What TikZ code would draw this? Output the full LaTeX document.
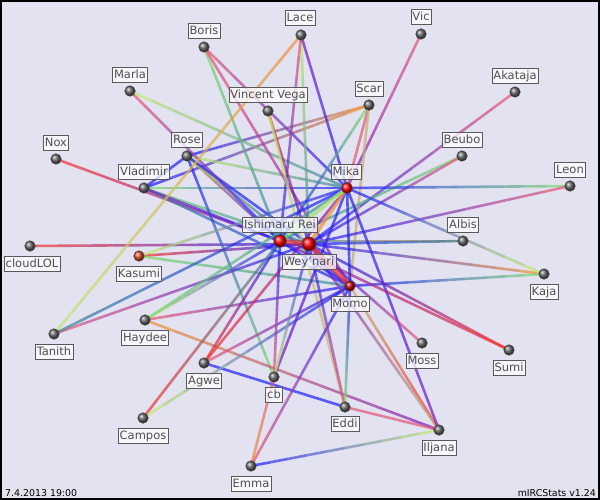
\documentclass[tikz,border=0pt]{standalone}
\usepackage{fontspec}
\setmainfont{DejaVu Sans}
\usetikzlibrary{calc}
\definecolor{bg}{RGB}{226,226,240}
\definecolor{B}{RGB}{30,30,250}
\definecolor{P}{RGB}{125,25,190}
\definecolor{K}{RGB}{228,85,120}
\definecolor{R}{RGB}{240,50,50}
\definecolor{G}{RGB}{120,215,110}
\definecolor{Y}{RGB}{190,232,110}
\definecolor{O}{RGB}{235,145,55}
\definecolor{T}{RGB}{60,135,160}
\definecolor{N}{RGB}{200,170,115}
\definecolor{lbltext}{RGB}{80,80,80}
\tikzset{
  dot/.style={circle, minimum size=10.5pt, inner sep=0pt, shading=ball, ball color=gray!80!black, draw=black!75, line width=0.5pt},
  hubdot/.style={dot, ball color=red},
  lbl/.style={draw=black!65, fill=white, fill opacity=0.75, text opacity=1, text=lbltext,
    font=\fontsize{11.5}{13}\selectfont, inner sep=1.6pt, text height=9pt, text depth=2.6pt},
  foot/.style={font=\fontsize{9.4}{11}\selectfont, text=black, inner sep=0pt}
}
\newcommand{\gedge}[5]{%
  \foreach \i in {0,...,9}{%
    \pgfmathtruncatemacro{\p}{100-\i*11}%
    \draw[line width=#5, draw opacity=0.7, #3!\p!#4] ($(#1)!\i/10!(#2)$) -- ($(#1)!\i/10+0.1!(#2)$);
  }}
\newcommand{\gln}[4]{\gedge{#1}{#2}{#3}{#4}{2.6pt}}
\begin{document}
\begin{tikzpicture}[x=1pt,y=-1pt]
\useasboundingbox (0,0) rectangle (600,500);
\fill[bg] (0,0) rectangle (600,500);
\draw[black, line width=2pt] (1,1) rectangle (599,499);
% positions
\coordinate (boris) at (204,47);
\coordinate (lace) at (301,35);
\coordinate (vic) at (421,34);
\coordinate (marla) at (130,91);
\coordinate (akataja) at (515,92);
\coordinate (vv) at (268,111);
\coordinate (scar) at (369,105);
\coordinate (nox) at (56,159);
\coordinate (rose) at (187,156);
\coordinate (beubo) at (462,156);
\coordinate (mika) at (347,188);
\coordinate (leon) at (570,186);
\coordinate (vlad) at (144,188);
\coordinate (rei) at (280,241);
\coordinate (wey) at (309,244);
\coordinate (albis) at (463,241);
\coordinate (cloud) at (30,246);
\coordinate (kasumi) at (139,256);
\coordinate (kaja) at (544,274);
\coordinate (momo) at (350,286);
\coordinate (haydee) at (145,320);
\coordinate (tanith) at (54,334);
\coordinate (moss) at (422,343);
\coordinate (sumi) at (509,350);
\coordinate (agwe) at (204,363);
\coordinate (cb) at (274,377);
\coordinate (eddi) at (345,407);
\coordinate (campos) at (143,418);
\coordinate (iljana) at (439,430);
\coordinate (emma) at (251,466);
% leaf edges
\gln{nox}{rei}{R}{P}
\gln{cloud}{wey}{R}{B}
\gln{vlad}{rose}{B}{B}
\gln{vlad}{mika}{G}{B}
\gln{vlad}{wey}{G}{T}
\gln{vlad}{momo}{T}{B}
\gln{vlad}{rei}{P}{B}
\gln{vlad}{scar}{B}{O}
\gln{rose}{scar}{B}{O}
\gln{rose}{mika}{Y}{T}
\gln{rose}{cb}{B}{G}
\gln{rose}{rei}{O}{B}
\gln{rose}{momo}{G}{B}
\gln{rose}{wey}{B}{B}
\gln{marla}{rei}{K}{B}
\gln{marla}{mika}{Y}{T}
\gln{boris}{mika}{K}{B}
\gln{boris}{rei}{G}{T}
\gln{boris}{momo}{K}{P}
\gln{lace}{tanith}{O}{Y}
\gln{lace}{wey}{Y}{T}
\gln{lace}{rei}{K}{B}
\gln{lace}{mika}{P}{B}
\gln{vic}{mika}{K}{P}
\gln{akataja}{wey}{K}{B}
\gln{scar}{rei}{G}{B}
\gln{scar}{mika}{K}{K}
\gln{scar}{momo}{N}{N}
\gln{vv}{wey}{R}{B}
\gln{vv}{eddi}{Y}{N}
\gln{beubo}{rei}{G}{T}
\gln{beubo}{wey}{K}{B}
\gln{leon}{mika}{G}{B}
\gln{leon}{wey}{K}{B}
\gln{albis}{rei}{O}{T}
\gln{albis}{wey}{T}{B}
\gln{kaja}{wey}{O}{B}
\gln{kaja}{momo}{G}{B}
\gln{kaja}{mika}{Y}{B}
\gln{kasumi}{wey}{R}{B}
\gln{kasumi}{mika}{Y}{B}
\gln{kasumi}{momo}{G}{T}
\gln{tanith}{wey}{K}{B}
\gln{tanith}{mika}{T}{B}
\gln{haydee}{rei}{Y}{B}
\gln{haydee}{mika}{G}{T}
\gln{haydee}{momo}{K}{B}
\gln{haydee}{iljana}{O}{P}
\gln{agwe}{eddi}{B}{B}
\gln{agwe}{rei}{R}{B}
\gln{agwe}{momo}{K}{B}
\gln{agwe}{mika}{R}{P}
\gln{campos}{rei}{R}{T}
\gln{campos}{momo}{Y}{B}
\gln{cb}{rei}{K}{B}
\gln{cb}{mika}{P}{B}
\gln{cb}{wey}{Y}{B}
\gln{emma}{cb}{O}{K}
\gln{emma}{iljana}{B}{Y}
\gln{emma}{momo}{K}{B}
\gln{eddi}{wey}{K}{B}
\gln{eddi}{momo}{G}{B}
\gln{eddi}{iljana}{K}{K}
\gln{iljana}{momo}{R}{N}
\gln{iljana}{wey}{N}{P}
\gln{iljana}{mika}{P}{B}
\gln{moss}{wey}{K}{B}
\gln{sumi}{wey}{R}{B}
\gln{sumi}{rei}{R}{P}
% hub edges
\gln{rei}{momo}{B}{B}
\gln{mika}{momo}{B}{B}
\gedge{wey}{mika}{O}{O}{3.5pt}
\gedge{rei}{mika}{G}{Y}{4pt}
\gedge{rei}{wey}{R}{R}{5pt}
\gedge{wey}{momo}{R}{R}{5pt}
% dots
\foreach \n in {boris,lace,vic,marla,akataja,vv,scar,nox,rose,beubo,leon,vlad,albis,cloud,kaja,haydee,tanith,moss,sumi,agwe,cb,eddi,campos,iljana,emma}
  \node[dot] (\n-d) at (\n) {};
\node[dot, ball color=red!45!brown] (kasumi-d) at (kasumi) {};
\node[hubdot, minimum size=11pt] (mika-d) at (mika) {};
\node[hubdot, minimum size=10.5pt, ball color=red!75!black] (momo-d) at (momo) {};
\node[hubdot, minimum size=12.5pt] (rei-d) at (rei) {};
\node[hubdot, minimum size=14pt] (wey-d) at (wey) {};
% labels
\node[lbl] (boris-l) at (204,31) {Boris};
\node[lbl] (lace-l) at (300,18) {Lace};
\node[lbl] (vic-l) at (421,17) {Vic};
\node[lbl] (marla-l) at (130,75) {Marla};
\node[lbl] (akataja-l) at (515,76) {Akataja};
\node[lbl] (vv-l) at (268,95) {Vincent Vega};
\node[lbl] (scar-l) at (369,89) {Scar};
\node[lbl] (nox-l) at (56,143) {Nox};
\node[lbl] (rose-l) at (187,140) {Rose};
\node[lbl] (beubo-l) at (462,140) {Beubo};
\node[lbl] (mika-l) at (346,172) {Mika};
\node[lbl] (leon-l) at (570,170) {Leon};
\node[lbl] (vlad-l) at (144,172) {Vladimir};
\node[lbl] (rei-l) at (280,225) {Ishimaru Rei};
\node[lbl] (albis-l) at (463,225) {Albis};
\node[lbl] (wey-l) at (309,262) {Wey'nari};
\node[lbl] (cloud-l) at (32,264) {cloudLOL};
\node[lbl] (kasumi-l) at (139,274) {Kasumi};
\node[lbl] (kaja-l) at (544,292) {Kaja};
\node[lbl] (momo-l) at (350,304) {Momo};
\node[lbl] (haydee-l) at (145,338) {Haydee};
\node[lbl] (tanith-l) at (54,352) {Tanith};
\node[lbl] (moss-l) at (422,361) {Moss};
\node[lbl] (sumi-l) at (509,368) {Sumi};
\node[lbl] (agwe-l) at (204,381) {Agwe};
\node[lbl] (cb-l) at (274,395) {cb};
\node[lbl] (eddi-l) at (345,424) {Eddi};
\node[lbl] (campos-l) at (143,436) {Campos};
\node[lbl] (iljana-l) at (439,448) {Iljana};
\node[lbl] (emma-l) at (251,484) {Emma};
% footer
\node[foot, anchor=south west] (date) at (5,497) {7.4.2013 19:00};
\node[foot, anchor=south east] (ver) at (596,497) {mIRCStats v1.24};
\end{tikzpicture}
\end{document}
